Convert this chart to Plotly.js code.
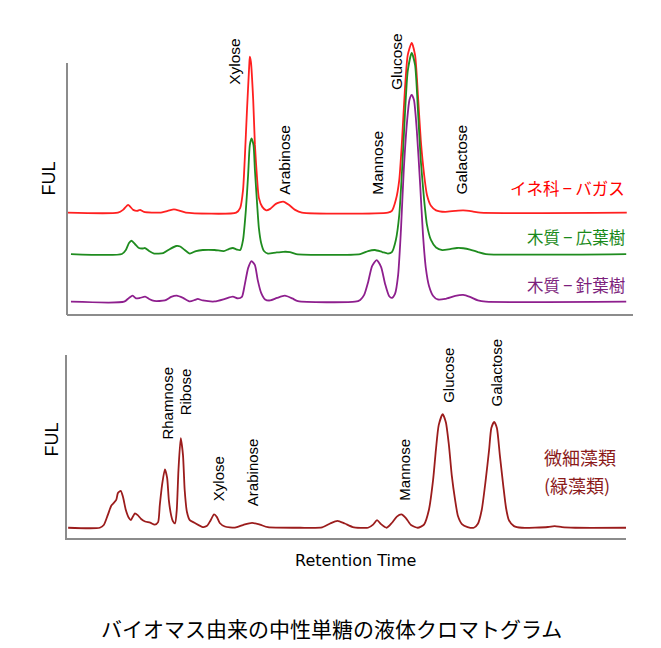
<!DOCTYPE html>
<html>
<head>
<meta charset="utf-8">
<script src="https://cdn.plot.ly/plotly-3.0.1.min.js"></script>
<style>
  html, body { margin: 0; padding: 0; background: #fff; }
  #plot { width: 661px; height: 648px; }
</style>
</head>
<body>
<div id="plot"></div>
<script>
// retention time (arbitrary units) and detector signal above each trace's own baseline
var redTime = [0, 9.0, 9.9, 10.8, 11.7, 12.4, 12.9, 13.6, 16.4, 17.8, 18.9, 20.0, 21.0, 29.9, 30.6, 31.1, 31.4, 31.8, 32.2, 32.3, 32.5, 32.9, 33.2, 33.6, 33.9, 34.5, 35.2, 35.9, 36.9, 38.2, 39.2, 40.3, 41.5, 56.7, 57.4, 58.1, 58.7, 59.2, 59.7, 60.2, 60.9, 61.5, 62.0, 62.5, 63.1, 63.6, 64.3, 65.2, 66.8, 68.6, 70.0, 71.6, 73.0, 98.9];
var redSignal = [0, 0, 1.1, 3.1, 1.1, 0.7, 1.1, 0.3, 0, 0.7, 1.3, 0.7, 0, 0, 1.9, 9.0, 21, 40.9, 58.8, 62.2, 60, 44.9, 27, 13, 5.9, 2.3, 0.9, 1.5, 3.5, 4.4, 3.1, 1.1, 0, 0, 0.7, 5.1, 13, 29, 49, 62.8, 67.7, 62.8, 47, 29, 15, 7, 2.7, 0.9, 0.3, 0.7, 0.9, 0.5, 0, 0];

var greenTime = [0.7, 9.7, 10.4, 10.95, 11.4, 12.0, 12.7, 13.3, 13.8, 14.5, 15.4, 17.0, 18.2, 19.3, 20.0, 20.8, 21.7, 22.8, 24.0, 26.1, 27.7, 28.6, 29.3, 30.0, 30.6, 31.1, 31.6, 32.0, 32.3, 32.6, 32.95, 33.2, 33.6, 33.9, 34.3, 34.8, 35.5, 36.9, 38.2, 39.4, 40.5, 51.8, 53.2, 54.4, 55.7, 56.7, 57.4, 58.1, 58.7, 59.2, 59.7, 60.2, 60.9, 61.5, 62.0, 62.5, 63.1, 63.6, 64.3, 65.2, 66.3, 67.7, 68.9, 70.0, 71.2, 72.6, 74.0, 98.8];
var greenSignal = [0, 0, 1.6, 4.4, 5.3, 4.0, 2.4, 2.2, 2.4, 1.2, 0.2, 0.4, 2.0, 3.2, 3.0, 1.6, 0.2, 1.2, 1.6, 1.6, 1.2, 2.0, 2.4, 1.8, 1.6, 5.6, 17.5, 31.5, 43.4, 46.1, 43.4, 33.5, 19.5, 10.4, 4.4, 1.2, 0.2, 0.6, 0.9, 0.8, 0, 0, 1.2, 1.6, 0.8, 0.2, 0.8, 5.6, 15.5, 33.5, 55.4, 72.9, 80.2, 75.3, 57.4, 37.5, 21.5, 11.6, 5.6, 2.6, 1.6, 2.0, 2.4, 2.3, 1.8, 0.8, 0, 0];

var purpleTime = [0.7, 10.1, 10.95, 11.6, 12.2, 12.9, 13.8, 14.5, 15.4, 17.3, 18.4, 19.4, 20.5, 21.7, 22.6, 23.1, 24.0, 26.1, 27.9, 29.3, 30.2, 30.9, 31.4, 32.0, 32.6, 33.2, 33.7, 34.3, 35.0, 35.9, 37.1, 38.5, 39.8, 40.8, 50.9, 51.8, 52.5, 53.2, 53.9, 54.7, 55.5, 56.2, 56.9, 57.4, 57.95, 58.5, 59.0, 59.5, 60.1, 60.5, 60.9, 61.3, 61.8, 62.4, 62.9, 63.4, 63.96, 64.7, 65.5, 66.8, 68.6, 70.0, 71.2, 72.6, 74.0, 98.8];
var purpleSignal = [0, 0, 1.5, 2.4, 1.3, 1.5, 2.0, 1.1, 0.3, 0.5, 1.9, 2.4, 1.5, 0.1, 0.7, 1.1, 0.5, 0.1, 1.1, 2.0, 1.3, 1.9, 6.7, 13.4, 16.2, 14.6, 8.6, 3.5, 0.9, 0.5, 1.5, 2.4, 1.3, 0.2, 0, 0.7, 2.7, 7.8, 14.2, 16.6, 13.8, 7.1, 2.3, 1.5, 3.1, 10.6, 28.6, 52.5, 72.4, 80.4, 82.4, 80.4, 68.4, 46.5, 26.6, 13.4, 6.3, 2.3, 0.9, 1.1, 2.3, 2.7, 1.9, 0.5, 0, 0];

var algaeTime = [0.2, 5.8, 6.5, 7.2, 7.8, 8.1, 8.7, 9.0, 9.5, 9.9, 10.4, 10.95, 11.3, 11.7, 12.0, 12.5, 13.1, 13.8, 14.7, 15.5, 16.1, 16.4, 16.8, 17.3, 17.7, 18.0, 18.4, 18.7, 19.1, 19.4, 19.7, 20.1, 20.5, 20.8, 21.2, 21.7, 22.6, 24.0, 24.7, 25.3, 26.0, 26.5, 27.0, 27.9, 29.7, 31.1, 32.7, 34.1, 35.5, 41.2, 45.1, 46.5, 47.8, 49.1, 50.5, 53.2, 54.1, 54.8, 55.5, 56.5, 57.4, 58.3, 59.1, 59.9, 60.8, 62.0, 63.1, 63.96, 64.7, 65.2, 65.7, 66.4, 66.96, 67.5, 68.0, 68.6, 69.1, 69.8, 70.8, 71.9, 72.6, 73.3, 74.0, 74.6, 75.0, 75.5, 75.98, 76.5, 77.1, 77.6, 78.1, 79.0, 80.4, 85.0, 86.2, 87.5, 89.8, 98.8];
var algaeSignal = [0, 0, 1.5, 6.9, 11.9, 13.0, 15.2, 19.0, 20.2, 16.8, 9.7, 5.3, 4.2, 6.4, 7.9, 6.9, 4.8, 3.4, 2.8, 1.7, 3.1, 12.4, 23.3, 31.9, 27.2, 15.1, 6.9, 3.7, 2.4, 9.7, 31.5, 48.9, 39.7, 20.6, 8.6, 4.2, 2.6, 0.4, 0.9, 3.6, 7.3, 5.8, 2.6, 0.7, 0.1, 1.5, 2.7, 1.7, 0.3, 0, 0.2, 2.3, 3.8, 2.3, 0.4, 0, 1.7, 4.2, 2.0, 0, 2.6, 6.1, 7.3, 5.3, 1.5, 0, 1.7, 9.7, 26.0, 42.5, 56.1, 62.1, 57.7, 45.2, 28.8, 15.1, 6.4, 2.0, 0.4, 0, 2.0, 9.7, 26.0, 42.5, 54.5, 57.9, 54.5, 39.7, 23.2, 10.8, 4.2, 0.9, 0, 0.4, 0.9, 0.3, 0, 0];

var seriesNames = ['イネ科\u2009−\u2009バガス', '木質\u2009−\u2009広葉樹', '木質\u2009−\u2009針葉樹', '微細藻類', '(緑藻類)'];

// peak labels: sugar name and retention time
var topPeaks = ['Xylose', 'Arabinose', 'Mannose', 'Glucose', 'Galactose'];
var topPeakTimes = [29.7, 38.3, 54.7, 58.2, 69.7];
var bottomPeaks = ['Rhamnose', 'Ribose', 'Xylose', 'Arabinose', 'Mannose', 'Glucose', 'Galactose'];
var bottomPeakTimes = [17.7, 21.0, 26.8, 32.9, 59.5, 67.4, 75.9];

// layout constants (not data)
var offsets = [40.4, 23.9, 4.9];
var algaeOffset = 5.6;
var topLabelY = [90.4, 46.6, 46.6, 88.4, 46.6];
var bottomLabelY = [52.5, 66.1, 19.1, 16.4, 19.1, 72.7, 71.0];
var colors = ['#ff2020', '#1f8c1f', '#8e1f8e', '#9b1c1c'];
var textColors = ['#ff0000', '#1a8a1a', '#7d1f7d', '#8b1a1a'];

function shift(arr, d) {
  return arr.map(function (v) { return v + d; });
}

var traces = [
  { x: redTime, y: shift(redSignal, offsets[0]), xaxis: 'x', yaxis: 'y' },
  { x: greenTime, y: shift(greenSignal, offsets[1]), xaxis: 'x', yaxis: 'y' },
  { x: purpleTime, y: shift(purpleSignal, offsets[2]), xaxis: 'x', yaxis: 'y' },
  { x: algaeTime, y: shift(algaeSignal, algaeOffset), xaxis: 'x2', yaxis: 'y2' }
];
traces.forEach(function (t, i) {
  t.type = 'scatter';
  t.mode = 'lines';
  t.name = seriesNames[i];
  t.line = { color: colors[i], width: 1.8, shape: 'spline', smoothing: 0.6 };
  t.hoverinfo = 'x+y';
});

var labelFont = { family: 'Liberation Sans, Arial, sans-serif', size: 15.5, color: '#000' };
var cjk = 'Noto Sans CJK JP, sans-serif';

var annotations = [];
topPeaks.forEach(function (name, i) {
  annotations.push({
    text: name, x: topPeakTimes[i], y: topLabelY[i], xref: 'x', yref: 'y',
    textangle: -90, xanchor: 'center', yanchor: 'bottom', showarrow: false, font: labelFont
  });
});
bottomPeaks.forEach(function (name, i) {
  annotations.push({
    text: name, x: bottomPeakTimes[i], y: bottomLabelY[i], xref: 'x2', yref: 'y2',
    textangle: -90, xanchor: 'center', yanchor: 'bottom', showarrow: false,
    font: { family: labelFont.family, size: 15, color: '#000' }
  });
});

// series names next to the traces
var nameY = [50.2, 30.7, 11.6];
for (var i = 0; i < 3; i++) {
  annotations.push({
    text: seriesNames[i], x: 98.9, y: nameY[i], xref: 'x', yref: 'y',
    xanchor: 'right', yanchor: 'middle', showarrow: false,
    font: { family: cjk, size: 16.5, color: textColors[i] }
  });
}
annotations.push({
  text: seriesNames[3], x: 84.1, y: 36.5, xref: 'x2', yref: 'y2',
  xanchor: 'left', yanchor: 'bottom', showarrow: false, borderpad: 0,
  font: { family: cjk, size: 18, color: textColors[3] }
});
annotations.push({
  text: seriesNames[4], x: 84.1, y: 36.5, xref: 'x2', yref: 'y2',
  xanchor: 'left', yanchor: 'top', showarrow: false, borderpad: 0,
  font: { family: cjk, size: 18, color: textColors[3] }
});

// axis labels and title
annotations.push({
  text: 'FUL', x: 48.5 / 661, y: 1 - 179 / 648, xref: 'paper', yref: 'paper',
  textangle: -90, xanchor: 'center', yanchor: 'middle', showarrow: false,
  font: { family: 'Liberation Sans, Arial, sans-serif', size: 18, color: '#000' }
});
annotations.push({
  text: 'FUL', x: 51.5 / 661, y: 1 - 440 / 648, xref: 'paper', yref: 'paper',
  textangle: -90, xanchor: 'center', yanchor: 'middle', showarrow: false,
  font: { family: 'Liberation Sans, Arial, sans-serif', size: 18, color: '#000' }
});
annotations.push({
  text: 'Retention Time', x: 355 / 661, y: 1 - 560 / 648, xref: 'paper', yref: 'paper',
  xanchor: 'center', yanchor: 'middle', showarrow: false,
  font: { family: 'DejaVu Sans, sans-serif', size: 16, color: '#000' }
});
annotations.push({
  text: 'バイオマス由来の中性単糖の液体クロマトグラム', x: 331 / 661, y: 1 - 628 / 648,
  xref: 'paper', yref: 'paper', xanchor: 'center', yanchor: 'middle', showarrow: false,
  font: { family: cjk, size: 21, color: '#000' }
});

var axisBase = {
  showline: true, linecolor: '#8c8c8c', linewidth: 2, showgrid: false, zeroline: false,
  showticklabels: false, ticks: '', fixedrange: true
};

var layout = {
  width: 661, height: 648,
  margin: { l: 0, r: 0, t: 0, b: 0 },
  paper_bgcolor: '#fff', plot_bgcolor: '#fff',
  showlegend: false,
  // top panel is taller than its drawn axis so the tall peaks are not cut off
  xaxis: Object.assign({}, axisBase, { domain: [67 / 661, 633 / 661], range: [0, 100], anchor: 'y' }),
  yaxis: Object.assign({}, axisBase, { showline: false, domain: [1 - 314 / 648, 1 - 35 / 648], range: [0, 111.2], anchor: 'x' }),
  xaxis2: Object.assign({}, axisBase, { domain: [67 / 661, 626 / 661], range: [0, 98.8], anchor: 'y2' }),
  yaxis2: Object.assign({}, axisBase, { domain: [1 - 538 / 648, 1 - 355 / 648], range: [0, 100], anchor: 'x2' }),
  shapes: [{
    type: 'line', xref: 'paper', yref: 'paper',
    x0: 67 / 661, x1: 67 / 661, y0: 1 - 315 / 648, y1: 1 - 63 / 648,
    line: { color: '#8c8c8c', width: 2 }
  }],
  annotations: annotations
};

Plotly.newPlot('plot', traces, layout, { displayModeBar: false, staticPlot: true });
</script>
</body>
</html>
